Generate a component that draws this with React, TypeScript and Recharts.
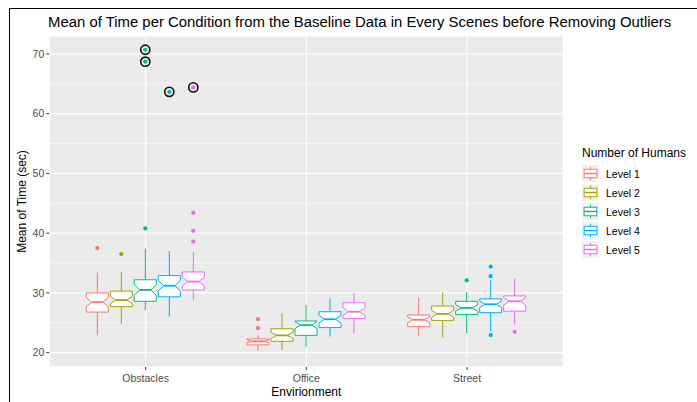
import React from 'react';
import { ComposedChart, Bar, XAxis, YAxis, CartesianGrid, Legend } from 'recharts';

const environments = ['Obstacles', 'Office', 'Street'];
const levelNames = ['Level 1', 'Level 2', 'Level 3', 'Level 4', 'Level 5'];
const levelColors = ['#F8766D', '#A3A500', '#00BF7D', '#00B0F6', '#E76BF3'];
const yTicks = [20, 30, 40, 50, 60, 70];
const yMinor = [25, 35, 45, 55, 65];

// [lower whisker, Q1, median, Q3, upper whisker] per environment (Obstacles, Office, Street)
const level1Stats = [[22.9, 26.8, 28.45, 30.0, 33.4], [20.3, 21.3, 21.9, 22.3, 22.9], [22.8, 24.35, 25.5, 26.3, 29.2]];
const level2Stats = [[24.8, 27.7, 28.8, 30.3, 33.5], [20.4, 21.9, 22.9, 24.0, 26.6], [22.5, 25.4, 26.5, 27.8, 30.1]];
const level3Stats = [[27.1, 28.6, 30.5, 32.2, 37.4], [21.0, 22.9, 24.6, 25.3, 28.0], [23.3, 26.4, 27.5, 28.6, 30.2]];
const level4Stats = [[26.0, 29.35, 31.2, 32.9, 37.0], [22.7, 24.2, 25.6, 26.85, 29.1], [23.6, 26.7, 28.1, 29.0, 32.1]];
const level5Stats = [[28.9, 30.5, 31.9, 33.5, 36.8], [23.2, 25.7, 26.85, 28.35, 30.0], [24.7, 26.95, 28.6, 29.5, 32.4]];

const level1Outliers = [[37.5], [25.6, 24.1], []];
const level2Outliers = [[36.5], [], []];
const level3Outliers = [[40.8], [], [32.1]];
const level4Outliers = [[], [], [34.4, 32.8, 22.95]];
const level5Outliers = [[43.4, 40.4, 38.6], [], [23.5]];

// extreme outliers highlighted with a black ring
const level1Circled = [[], [], []];
const level2Circled = [[], [], []];
const level3Circled = [[70.7, 68.7], [], []];
const level4Circled = [[63.65], [], []];
const level5Circled = [[64.4], [], []];

const sampleSize = 40;

const allStats = [level1Stats, level2Stats, level3Stats, level4Stats, level5Stats];
const allOutliers = [level1Outliers, level2Outliers, level3Outliers, level4Outliers, level5Outliers];
const allCircled = [level1Circled, level2Circled, level3Circled, level4Circled, level5Circled];

const data = environments.map((env, i) => ({
  env,
  stats: allStats.map((s) => s[i]),
  outliers: allOutliers.map((o) => o[i]),
  circled: allCircled.map((c) => c[i]),
}));

const FONT = '"Liberation Sans", Arial, Helvetica, sans-serif';

const makeBoxShape = (k: number) => (props: any) => {
  const { x, y, width, height, payload } = props;
  if (!payload) return null;
  const [lo, q1, med, q3, hi] = payload.stats[k];
  const top = Math.min(y, y + height);
  const h = Math.abs(height);
  const scale = h / (hi - lo);
  const py = (v: number) => top + (hi - v) * scale;
  const color = levelColors[k];
  const bw = width * 0.92;
  const x0 = x + (width - bw) / 2;
  const x1 = x0 + bw;
  const cx = x + width / 2;
  const notch = (1.58 * (q3 - q1)) / Math.sqrt(sampleSize);
  const nU = med + notch;
  const nL = med - notch;
  const ind = bw * 0.25;
  const pts = [
    [x0, py(q3)], [x0, py(nU)], [x0 + ind, py(med)], [x0, py(nL)], [x0, py(q1)],
    [x1, py(q1)], [x1, py(nL)], [x1 - ind, py(med)], [x1, py(nU)], [x1, py(q3)],
  ].map((p) => p.join(',')).join(' ');
  return (
    <g>
      <line x1={cx} x2={cx} y1={py(q3)} y2={py(hi)} stroke={color} strokeWidth={1} />
      <line x1={cx} x2={cx} y1={py(q1)} y2={py(lo)} stroke={color} strokeWidth={1} />
      <polygon points={pts} fill="#FFFFFF" stroke={color} strokeWidth={1} />
      <line x1={x0 + ind} x2={x1 - ind} y1={py(med)} y2={py(med)} stroke={color} strokeWidth={1.8} />
      {payload.outliers[k].map((v: number, j: number) => (
        <circle key={'o' + j} cx={cx} cy={py(v)} r={2.1} fill={color} />
      ))}
      {payload.circled[k].map((v: number, j: number) => (
        <g key={'c' + j}>
          <circle cx={cx} cy={py(v)} r={4.6} fill="none" stroke="#111111" strokeWidth={1.6} />
          <circle cx={cx} cy={py(v)} r={2.1} fill={color} />
        </g>
      ))}
    </g>
  );
};

const LegendContent = () => (
  <div style={{ fontFamily: FONT }}>
    <div style={{ fontSize: 12, lineHeight: '16px', color: '#000', whiteSpace: 'nowrap' }}>Number of Humans</div>
    <div style={{ marginTop: 3 }}>
      {levelNames.map((name, k) => (
        <div key={name} style={{ display: 'flex', alignItems: 'center', height: 19 }}>
          <svg width={17} height={17} style={{ display: 'block' }}>
            <rect x={0} y={0} width={17} height={17} fill="#F2F2F2" />
            <line x1={8.5} x2={8.5} y1={1.7} y2={4.25} stroke={levelColors[k]} strokeWidth={1} />
            <line x1={8.5} x2={8.5} y1={12.75} y2={15.3} stroke={levelColors[k]} strokeWidth={1} />
            <rect x={2.1} y={4.25} width={12.8} height={8.5} fill="#FFFFFF" stroke={levelColors[k]} strokeWidth={1} />
            <line x1={2.1} x2={14.9} y1={8.5} y2={8.5} stroke={levelColors[k]} strokeWidth={1.4} />
          </svg>
          <span style={{ marginLeft: 7, fontSize: 10.5, color: '#000', whiteSpace: 'nowrap' }}>{name}</span>
        </div>
      ))}
    </div>
  </div>
);

const YTitle = (props: any) => {
  const vb = props.viewBox;
  const cx = vb.x + 12.7;
  const cy = vb.y + vb.height / 2;
  return (
    <text x={cx} y={cy} transform={`rotate(-90 ${cx} ${cy})`} textAnchor="middle" dominantBaseline="central"
      fontSize={12} fill="#000" fontFamily={FONT}>Mean of Time (sec)</text>
  );
};

const XTitle = (props: any) => {
  const vb = props.viewBox;
  return (
    <text x={vb.x + vb.width / 2} y={vb.y + 25} textAnchor="middle" dominantBaseline="central"
      fontSize={12} fill="#000" fontFamily={FONT}>Envirionment</text>
  );
};

export default function App() {
  return (
    <div style={{ position: 'fixed', left: 0, top: 0, width: 697, height: 402, background: '#FFFFFF' }}>
      <div style={{ position: 'absolute', left: 9, top: 8, width: 688, height: 1, background: '#000' }} />
      <div style={{ position: 'absolute', left: 9, top: 8, width: 1, height: 394, background: '#000' }} />
      <div style={{ position: 'absolute', left: 48, top: 13, fontSize: 14.9, lineHeight: '18px', fontFamily: FONT, color: '#000', whiteSpace: 'nowrap' }}>
        Mean of Time per Condition from the Baseline Data in Every Scenes before Removing Outliers
      </div>
      <div style={{ position: 'absolute', left: 0, top: 0 }}>
        <ComposedChart width={697} height={402} data={data}
          margin={{ top: 36, right: 133.6, bottom: 15, left: 9.3 }}
          barCategoryGap={20} barGap={0}>
          <CartesianGrid fill="#EBEBEB" stroke="#FFFFFF" strokeWidth={0.55} vertical={false}
            horizontalValues={yMinor} />
          <CartesianGrid stroke="#FFFFFF" strokeWidth={1.1} />
          <XAxis dataKey="env" type="category" height={20} padding={{ left: 16, right: 16 }}
            axisLine={false} tickSize={3} tickLine={{ stroke: '#333333' }} tickMargin={5}
            tick={{ fill: '#4D4D4D', fontSize: 10.5, fontFamily: FONT }}
            label={{ content: XTitle }} />
          <YAxis type="number" domain={[17.6, 73.0]} ticks={yTicks} width={40}
            axisLine={false} tickSize={3} tickLine={{ stroke: '#333333' }} tickMargin={2}
            tick={{ fill: '#4D4D4D', fontSize: 10.5, fontFamily: FONT }}
            label={{ content: YTitle }} />
          {levelNames.map((name, k) => (
            <Bar key={name} name={name} dataKey={(d: any) => [d.stats[k][0], d.stats[k][4]]}
              fill={levelColors[k]} shape={makeBoxShape(k)} isAnimationActive={false} />
          ))}
          <Legend content={LegendContent} layout="horizontal" verticalAlign="middle" align="center"
            wrapperStyle={{ left: 582, top: 145, width: 115 }} />
        </ComposedChart>
      </div>
    </div>
  );
}
